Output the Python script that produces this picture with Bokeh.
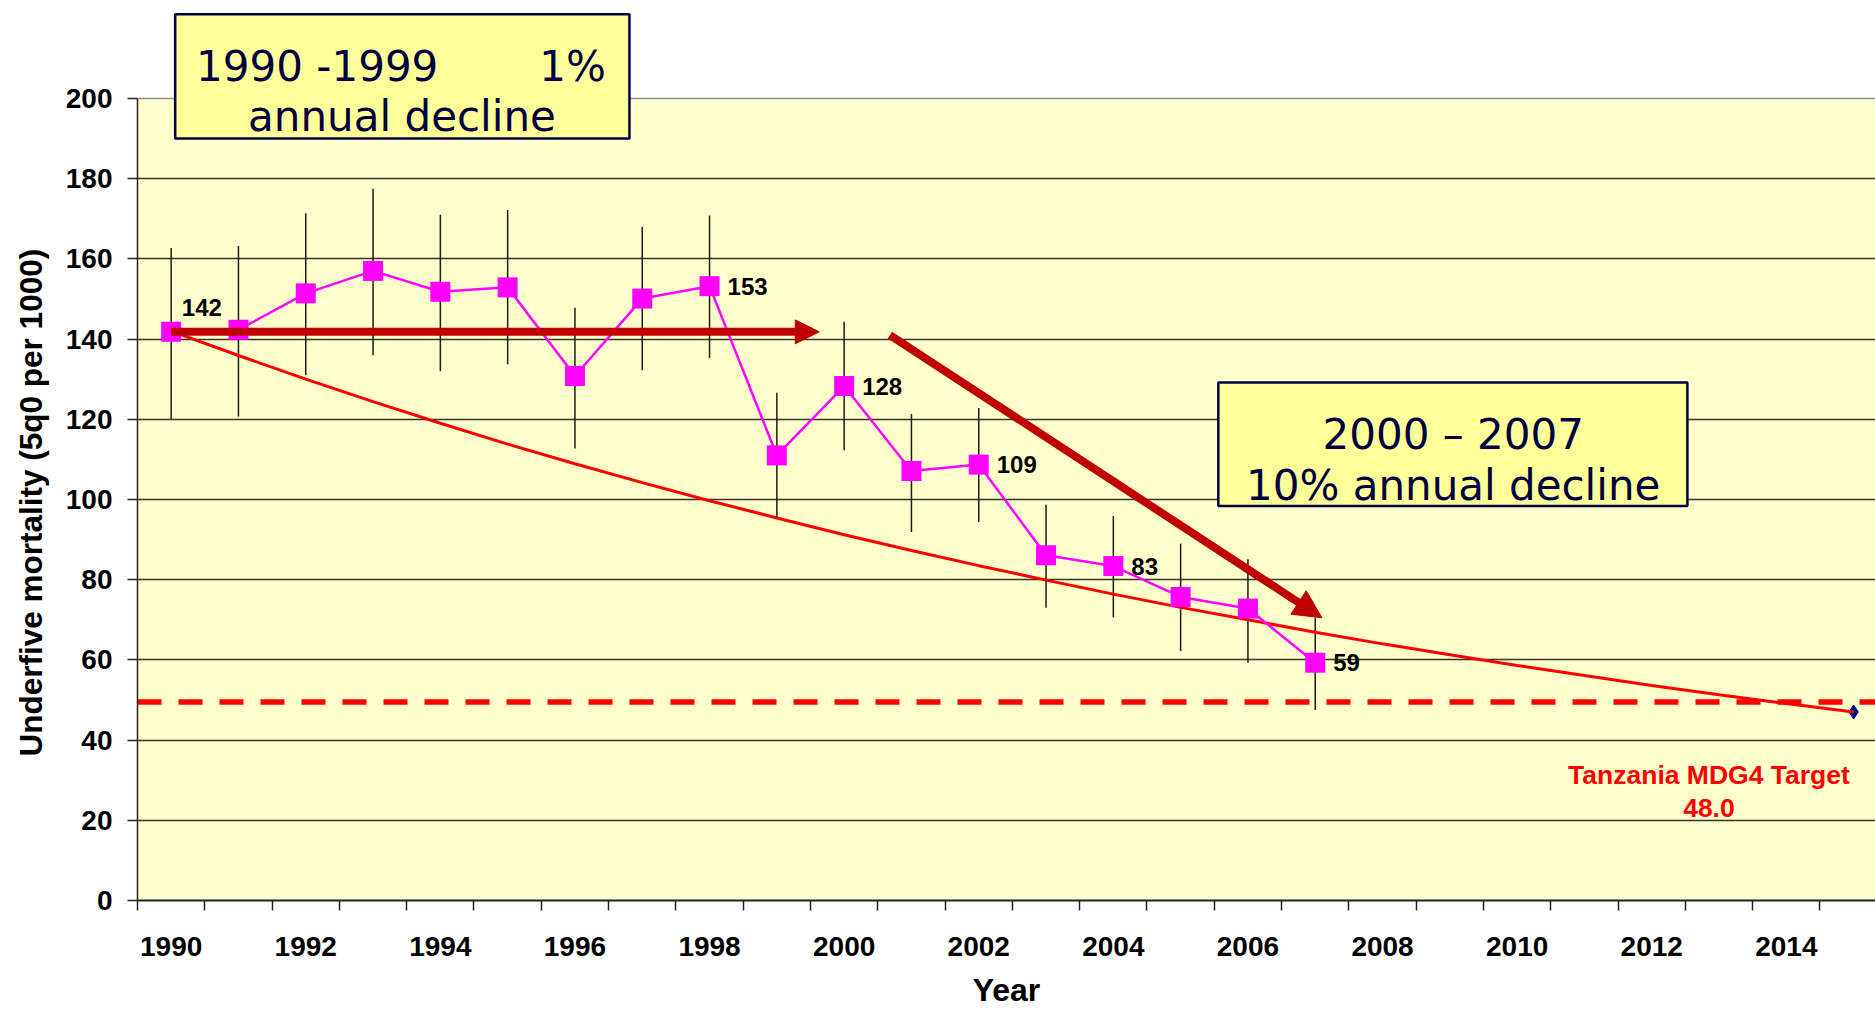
from bokeh.plotting import figure
from bokeh.models import (Range1d, FixedTicker, Span, BoxAnnotation, Arrow,
                          NormalHead, Label, ColumnDataSource, Title)
from bokeh.core.properties import value
from bokeh.embed import file_html
from bokeh.resources import INLINE

# ---------------- data ----------------
years = [1990, 1991, 1992, 1993, 1994, 1995, 1996, 1997, 1998,
         1999, 2000, 2001, 2002, 2003, 2004, 2005, 2006, 2007]
u5mr = [141.8, 142.3, 151.4, 157.0, 151.8, 152.9, 130.8, 150.1, 153.2,
        111.0, 128.3, 107.1, 108.7, 86.1, 83.4, 75.7, 72.8, 59.3]
ci_upper = [162.7, 163.2, 171.4, 177.5, 171.0, 172.2, 147.8, 168.0, 170.8,
            126.6, 144.3, 121.3, 122.8, 98.7, 95.9, 89.0, 85.1, 70.5]
ci_lower = [120.0, 120.7, 131.0, 136.0, 132.0, 133.7, 112.7, 132.2, 135.3,
            95.3, 112.3, 91.9, 94.4, 73.0, 70.6, 62.2, 59.3, 47.5]

trend_years = [1990, 1991, 1992, 1993, 1994, 1995, 1996, 1997, 1998, 1999,
               2000, 2001, 2002, 2003, 2004, 2005, 2006, 2007, 2008, 2009,
               2010, 2011, 2012, 2013, 2014, 2015]
trend_values = [142.0, 135.9, 130.0, 124.4, 119.0, 113.8, 108.9, 104.2, 99.7, 95.4,
                91.2, 87.3, 83.5, 79.9, 76.4, 73.1, 70.0, 66.9, 64.0, 61.3,
                58.6, 56.1, 53.6, 51.3, 49.1, 47.0]

target_line_level = 49.5
target_label = ["Tanzania MDG4 Target", "48.0"]

labelled_years = [1990, 1998, 2000, 2002, 2004, 2007]

y_ticks = [0, 20, 40, 60, 80, 100, 120, 140, 160, 180, 200]
x_tick_labels = [1990, 1992, 1994, 1996, 1998, 2000, 2002, 2004, 2006,
                 2008, 2010, 2012, 2014]
category_edges = [1989.5, 1990.5, 1991.5, 1992.5, 1993.5, 1994.5, 1995.5,
                  1996.5, 1997.5, 1998.5, 1999.5, 2000.5, 2001.5, 2002.5,
                  2003.5, 2004.5, 2005.5, 2006.5, 2007.5, 2008.5, 2009.5,
                  2010.5, 2011.5, 2012.5, 2013.5, 2014.5, 2015.5]

y_title = "Underfive mortality (5q0 per 1000)"
x_title = "Year"
box1_lines = ["1990 -1999", "1%", "annual decline"]
box2_lines = ["2000 \u2013 2007", "10% annual decline"]

# ---------------- figure ----------------
ARIAL = "Liberation Sans"
BOXFONT = "DejaVu Sans"
NAVY = "#000040"
DARKRED = "#C00000"

p = figure(width=1875, height=1010,
           x_range=Range1d(1989.5, 2015.325), y_range=Range1d(0, 222.44),
           output_backend="svg", toolbar_location=None,
           min_border_left=137, min_border_right=0,
           min_border_top=8, min_border_bottom=110)
p.background_fill_color = "white"
p.border_fill_color = "white"
p.outline_line_color = None

# plot area (yellow)
p.add_layout(BoxAnnotation(bottom=0, top=200, fill_color="#FFFFCC", fill_alpha=1,
                           line_color=None, level="image"))

# grid
p.xgrid.visible = False
p.ygrid.ticker = FixedTicker(ticks=y_ticks[:-1])
p.ygrid.grid_line_color = "#333333"
p.ygrid.grid_line_width = 1.5
p.add_layout(Span(location=y_ticks[-1], dimension="width", line_color="#8C8C8C",
                  line_width=1.5, level="underlay"))

# y axis
yax = p.yaxis[0]
yax.ticker = FixedTicker(ticks=y_ticks)
yax.bounds = (y_ticks[0], y_ticks[-1])
yax.axis_line_color = "#222222"
yax.axis_line_width = 1.5
yax.major_tick_line_color = "#222222"
yax.major_tick_line_width = 1.5
yax.major_tick_out = 10
yax.major_tick_in = 0
yax.minor_tick_line_color = None
yax.major_label_standoff = 15
yax.major_label_text_font = ARIAL
yax.major_label_text_font_style = "bold"
yax.major_label_text_font_size = "28px"
yax.major_label_text_color = "black"

# y title: a side-panel title so that it can sit centred on the 0-200 span
p.add_layout(Title(text=y_title, align="left", offset=144, vertical_align="top",
                   standoff=24, text_font=ARIAL, text_font_style="bold",
                   text_font_size="31.5px", text_color="black"), "left")

# x axis
xax = p.xaxis[0]
xax.ticker = FixedTicker(ticks=x_tick_labels, minor_ticks=category_edges)
xax.axis_line_color = "#222222"
xax.axis_line_width = 2
xax.major_tick_out = 0
xax.major_tick_in = 0
xax.minor_tick_out = 10
xax.minor_tick_in = 0
xax.minor_tick_line_color = "#222222"
xax.minor_tick_line_width = 1.5
xax.major_label_standoff = 26
xax.major_label_text_font = ARIAL
xax.major_label_text_font_style = "bold"
xax.major_label_text_font_size = "28px"
xax.major_label_text_color = "black"
xax.axis_label = x_title
xax.axis_label_text_font = ARIAL
xax.axis_label_text_font_style = "bold"
xax.axis_label_text_font_size = "32px"
xax.axis_label_text_color = "black"
xax.axis_label_standoff = 13

# target dashed line
p.add_layout(Span(location=target_line_level, dimension="width", line_color="#FF0000",
                  line_width=5.5, line_dash="24 17", level="underlay"))

# error bars
p.segment(x0=years, y0=ci_lower, x1=years, y1=ci_upper,
          line_color="#1a1a1a", line_width=1.5)

# trend line with diamond end points
p.scatter(x=[trend_years[0], trend_years[-1]], y=[trend_values[0], trend_values[-1]],
          marker="diamond", size=14, color="#000080")
p.line(trend_years, trend_values, line_color="#FF0000", line_width=3)

# under-five mortality series
p.line(years, u5mr, line_color="#FF00FF", line_width=2.5)
p.scatter(years, u5mr, marker="square", size=20, fill_color="#FF00FF",
          line_color=None)

# data labels
lab_x = [y for y in labelled_years]
lab_y = [u5mr[years.index(y)] for y in labelled_years]
lab_t = [str(int(round(v))) for v in lab_y]
x_off = [10.7, 18, 18, 18, 18, 18]
y_off = [-24, 0, 0, 0, 0, 0]
src = ColumnDataSource(dict(x=lab_x, y=lab_y, t=lab_t, xo=x_off, yo=y_off))
p.text(x="x", y="y", text="t", x_offset="xo", y_offset="yo", source=src,
       text_font=value(ARIAL), text_font_style="bold", text_font_size="24px",
       text_color="black", text_baseline="alphabetic", text_align="left")

# arrows
p.add_layout(Arrow(x_start=1990.0, y_start=141.8, x_end=1999.63, y_end=141.8,
                   line_color=DARKRED, line_width=8,
                   end=NormalHead(size=24, fill_color=DARKRED, line_color=DARKRED)))
p.add_layout(Arrow(x_start=2000.68, y_start=141.0, x_end=2007.10, y_end=70.5,
                   line_color=DARKRED, line_width=8,
                   end=NormalHead(size=28, fill_color=DARKRED, line_color=DARKRED)))

# text boxes
for b in [dict(left=1990.06, right=1996.81, top=221.0, bottom=190.0),
          dict(left=2005.56, right=2012.53, top=129.2, bottom=98.4)]:
    p.add_layout(BoxAnnotation(**b, fill_color="#FFFF99", fill_alpha=1,
                               line_color=NAVY, line_alpha=1, line_width=2.5))

def box_label(x, y, text, align):
    p.add_layout(Label(x=x, y=y, text=text, text_font=BOXFONT, text_font_size="42px",
                       text_color=NAVY, text_align=align, text_baseline="alphabetic"))

box_label(1990.37, 208.1, box1_lines[0], "left")
box_label(1996.46, 208.1, box1_lines[1], "right")
box_label(1993.43, 195.4, box1_lines[2], "center")
box_label(2009.05, 116.3, box2_lines[0], "center")
box_label(2009.05, 103.6, box2_lines[1], "center")

# target text
for txt, yy in zip(target_label, [31.2, 23.1]):
    p.add_layout(Label(x=2012.85, y=yy, text=txt, text_font=ARIAL,
                       text_font_style="bold", text_font_size="26.5px",
                       text_color="#FF0000", text_align="center",
                       text_baseline="alphabetic"))

open("out.html", "w").write(file_html(p, INLINE))
